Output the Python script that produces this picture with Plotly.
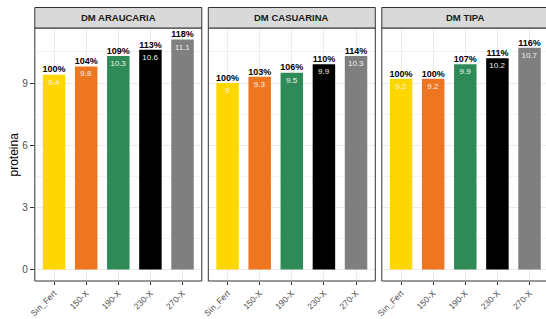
import plotly.graph_objects as go

categories = ["Sin_Fert", "150-X", "190-X", "230-X", "270-X"]
panels = ["DM ARAUCARIA", "DM CASUARINA", "DM TIPA"]
araucaria = [9.4, 9.8, 10.3, 10.6, 11.1]
casuarina = [9.0, 9.3, 9.5, 9.9, 10.3]
tipa = [9.2, 9.2, 9.9, 10.2, 10.7]
pct_araucaria = ["100%", "104%", "109%", "113%", "118%"]
pct_casuarina = ["100%", "103%", "106%", "110%", "114%"]
pct_tipa = ["100%", "100%", "107%", "111%", "116%"]
val_araucaria = ["9.4", "9.8", "10.3", "10.6", "11.1"]
val_casuarina = ["9", "9.3", "9.5", "9.9", "10.3"]
val_tipa = ["9.2", "9.2", "9.9", "10.2", "10.7"]
yticks = [0, 3, 6, 9]

colors = ["#FFD700", "#EE7621", "#2E8B57", "#000000", "#7F7F7F"]

W, H = 546, 319
def px(x):
    return x / W
def py(y):
    return 1 - y / H

panel_px = [(34.8, 201.8), (208.3, 375.3), (381.8, 548.8)]
top_px, bot_px = 28.0, 281.0
strip_top = 7.5
yrange = [-0.555, 11.655]
catw = 167 / 5.2

series = [araucaria, casuarina, tipa]
pcts = [pct_araucaria, pct_casuarina, pct_tipa]
vals = [val_araucaria, val_casuarina, val_tipa]

fig = go.Figure()
layout = dict(
    width=W, height=H, margin=dict(l=0, r=0, t=0, b=0, autoexpand=False),
    paper_bgcolor="white", plot_bgcolor="white", showlegend=False,
    font=dict(family="Liberation Sans, Arial, sans-serif"),
)
shapes = []
annotations = []
for i in range(3):
    xa = "x" if i == 0 else f"x{i+1}"
    ya = "y" if i == 0 else f"y{i+1}"
    x0, x1 = panel_px[i]
    dom_end = min(x1, W)
    if x1 > W:
        rng = [-0.6, -0.6 + (W - x0) / catw]
    else:
        rng = [-0.6, 4.6]
    fig.add_trace(go.Bar(
        x=categories, y=series[i], marker=dict(color=colors, line=dict(width=0)),
        width=0.7, xaxis=xa, yaxis=ya, hoverinfo="skip",
        text=vals[i], textposition="inside", insidetextanchor="end",
        textangle=0, constraintext="none",
        insidetextfont=dict(size=8, color="#F2F2F2", family="Liberation Sans, Arial")))
    fig.add_trace(go.Scatter(
        x=categories, y=series[i], mode="text", text=pcts[i],
        textposition="top center",
        textfont=dict(size=9, color="black", family="Liberation Sans, Arial", weight="bold"),
        xaxis=xa, yaxis=ya, hoverinfo="skip", cliponaxis=False))
    key = "xaxis" if i == 0 else f"xaxis{i+1}"
    ykey = "yaxis" if i == 0 else f"yaxis{i+1}"
    layout[key] = dict(
        domain=[px(x0), px(dom_end)], range=rng, type="category",
        categoryorder="array", categoryarray=categories, automargin=False,
        anchor=ya, showgrid=True, gridcolor="#EBEBEB", gridwidth=0.8,
        ticks="outside", ticklen=3, tickcolor="#333333", tickwidth=1,
        tickangle=-45, tickfont=dict(size=8.5, color="#4D4D4D"),
        showline=False, zeroline=False, fixedrange=True)
    layout[ykey] = dict(
        domain=[py(bot_px), py(top_px)], range=yrange, anchor=xa, automargin=False,
        tickvals=yticks, showgrid=True, gridcolor="#EBEBEB", gridwidth=0.8,
        minor=dict(tickvals=[1.5, 4.5, 7.5, 10.5], showgrid=True,
                   gridcolor="#F3F3F3", gridwidth=0.5, ticks=""),
        zeroline=False, showline=False, fixedrange=True,
        ticks="outside" if i == 0 else "", ticklen=4, tickcolor="#333333",
        showticklabels=(i == 0), tickfont=dict(size=10, color="#4D4D4D"))
    shapes.append(dict(type="rect", xref="paper", yref="paper",
                       x0=px(x0), x1=px(x1), y0=py(bot_px), y1=py(top_px),
                       line=dict(color="#333333", width=1), fillcolor="rgba(0,0,0,0)",
                       layer="above"))
    shapes.append(dict(type="rect", xref="paper", yref="paper",
                       x0=px(x0), x1=px(x1), y0=py(top_px), y1=py(strip_top),
                       line=dict(color="#333333", width=1), fillcolor="#D9D9D9"))
    annotations.append(dict(
        text="<b>" + panels[i] + "</b>", xref="paper", yref="paper",
        x=px((x0 + x1) / 2), y=py((top_px + strip_top) / 2),
        xanchor="center", yanchor="middle", showarrow=False,
        font=dict(size=9.5, color="#1A1A1A")))

annotations.append(dict(
    text="proteina", xref="paper", yref="paper", x=px(13), y=py((top_px + bot_px) / 2),
    xanchor="center", yanchor="middle", textangle=-90, showarrow=False,
    font=dict(size=12, color="black")))

layout["shapes"] = shapes
layout["annotations"] = annotations
fig.update_layout(**layout)
fig.write_html("out.html", config={"displayModeBar": False},
               post_script="document.body.style.margin='0';document.body.style.overflow='hidden';")
